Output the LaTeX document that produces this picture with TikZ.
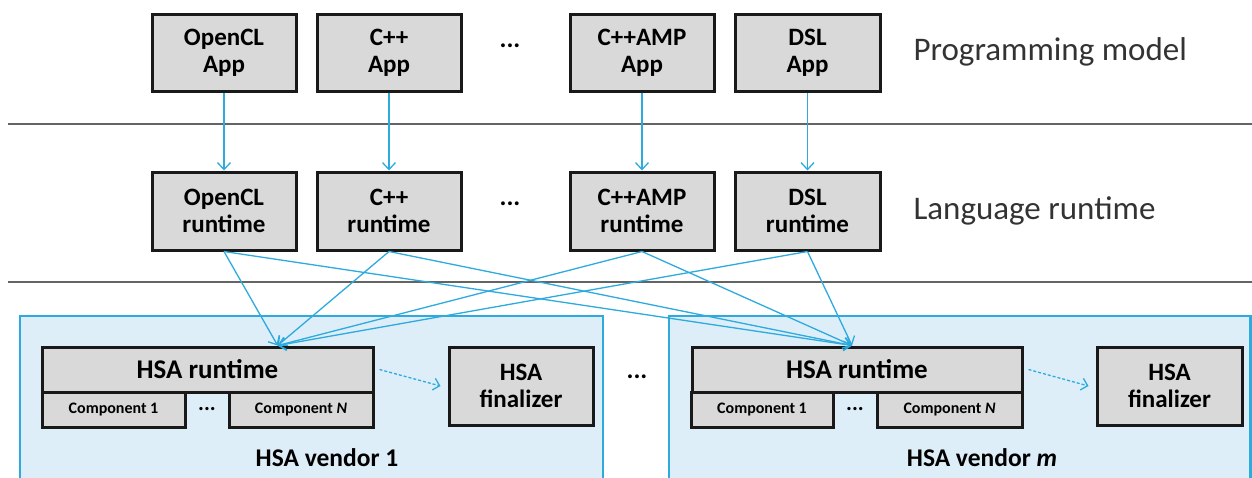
\documentclass[tikz,border=0pt]{standalone}
\usepackage{fontspec}
\setmainfont{Carlito}
\usetikzlibrary{arrows.meta,calc}
\definecolor{boxgray}{RGB}{217,217,217}
\definecolor{cyanline}{RGB}{45,170,222}
\definecolor{vendorfill}{RGB}{221,238,248}
\definecolor{sepgray}{RGB}{100,100,100}
\tikzset{
  gbox/.style={draw=black!90, line width=3pt, fill=boxgray, align=center, font=\fontsize{25}{27}\selectfont\bfseries, inner sep=0pt},
  compbox/.style={draw=black!90, line width=3pt, fill=boxgray, font=\fontsize{16}{18}\selectfont\bfseries, inner sep=0pt, minimum height=35pt},
  vendor/.style={draw=cyanline, line width=2.6pt, fill=vendorfill},
  flow/.style={draw=cyanline, line width=1.3pt, -{Straight Barb[length=7pt,width=13pt,line width=1.3pt]}},
  dflow/.style={draw=cyanline, line width=1.3pt, dash pattern=on 3pt off 2pt, -{Straight Barb[length=6pt,width=12pt,line width=1.3pt]}},
  sep/.style={draw=sepgray, line width=1.8pt},
  dots/.style={font=\fontsize{26}{28}\selectfont\bfseries},
  layer/.style={font=\fontsize{33}{36}\selectfont, anchor=west, text=black!80},
  vlabel/.style={font=\fontsize{25.5}{28}\selectfont\bfseries}
}
\begin{document}
\begin{tikzpicture}[x=1pt,y=-1pt]
\useasboundingbox (0,0) rectangle (1252,477);
% separators
\coordinate (s1a) at (8,124); \coordinate (s1b) at (1252,124);
\coordinate (s2a) at (8,282); \coordinate (s2b) at (1252,282);
\draw[sep] (s1a) -- (s1b);
\draw[sep] (s2a) -- (s2b);
% vendor boxes
\path[vendor] (20,316) rectangle (603,484);
\path[vendor] (669,316) rectangle (1250.5,484);
% top apps
\node[gbox, minimum width=144pt, minimum height=77pt] (a1) at (224,52.5) {OpenCL\\App};
\node[gbox, minimum width=144pt, minimum height=77pt] (a2) at (389,52.5) {C++\\App};
\node[gbox, minimum width=144pt, minimum height=77pt] (a3) at (642,52.5) {C++AMP\\App};
\node[gbox, minimum width=145pt, minimum height=77pt] (a4) at (807.5,52.5) {DSL\\App};
\node[dots] (d1) at (510,46) {...};
\node[layer] (l1) at (910,52) {Programming model};
% runtimes
\node[gbox, minimum width=144pt, minimum height=78pt] (r1) at (224,211) {OpenCL\\runtime};
\node[gbox, minimum width=144pt, minimum height=78pt] (r2) at (389,211) {C++\\runtime};
\node[gbox, minimum width=144pt, minimum height=78pt] (r3) at (642,211) {C++AMP\\runtime};
\node[gbox, minimum width=145pt, minimum height=78pt] (r4) at (807.5,211) {DSL\\runtime};
\node[dots] (d2) at (510,204) {...};
\node[layer] (l2) at (910,211) {Language runtime};
% vendor 1
\node[gbox, font=\fontsize{27}{29}\selectfont\bfseries, minimum width=331pt, minimum height=45pt] (h1) at (207.5,369.5) {HSA runtime};
\node[compbox, minimum width=143pt] (c11) at (113.5,409.5) {Component 1};
\node[compbox, minimum width=144pt] (c1n) at (301,409.5) {Component \textit{N}};
\node[dots, font=\fontsize{22}{24}\selectfont\bfseries] (d3) at (207,409) {...};
\node[gbox, minimum width=144pt, minimum height=78pt] (f1) at (521,386) {HSA\\finalizer};
\node[vlabel] (v1) at (327,458) {HSA vendor 1};
% vendor m
\node[gbox, font=\fontsize{27}{29}\selectfont\bfseries, minimum width=330pt, minimum height=45pt] (hm) at (857,369.5) {HSA runtime};
\node[compbox, minimum width=142pt] (cm1) at (762,409.5) {Component 1};
\node[compbox, minimum width=145pt] (cmn) at (949.5,409.5) {Component \textit{N}};
\node[dots, font=\fontsize{22}{24}\selectfont\bfseries] (d4) at (855,409) {...};
\node[gbox, minimum width=145pt, minimum height=78pt] (fm) at (1169.5,386) {HSA\\finalizer};
\node[vlabel] (vm) at (982,458) {HSA vendor \textit{m}};
\node[dots] (d5) at (637,377) {...};
% arrows app -> runtime
\draw[flow] (a1) -- (r1);
\draw[flow] (a2) -- (r2);
\draw[flow] (a3) -- (r3);
\draw[flow] (a4) -- (r4);
% runtime -> HSA runtimes
\coordinate (t1) at ($(h1.north west)!0.71!(h1.north east)$);
\coordinate (tm) at ($(hm.north west)!0.485!(hm.north east)$);
\foreach \r in {r1,r2,r3,r4}{
  \draw[flow] (\r.south) -- (t1);
  \draw[flow] (\r.south) -- (tm);
}
% runtime -> finalizer
\draw[dflow] ([xshift=5pt]h1.east) -- ([xshift=-7pt]f1.west);
\draw[dflow] ([xshift=5pt]hm.east) -- ([xshift=-7pt]fm.west);
\end{tikzpicture}
\end{document}
